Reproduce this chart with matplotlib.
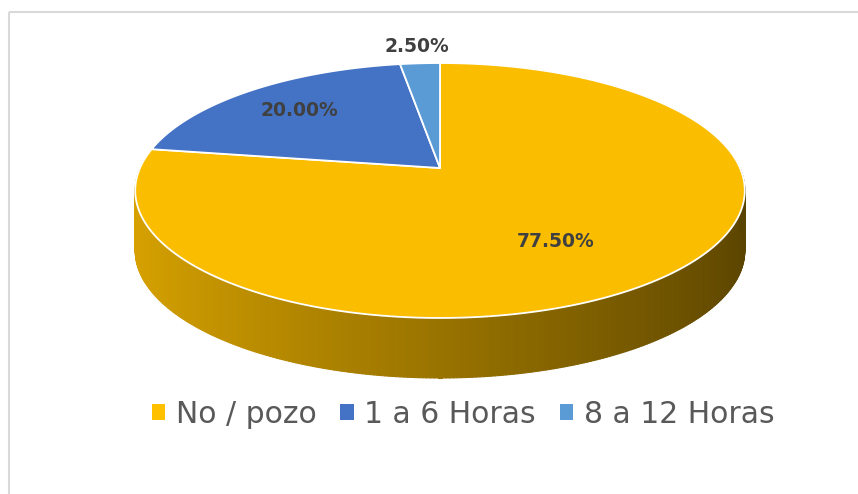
import numpy as np
import matplotlib.pyplot as plt
from matplotlib.patches import Polygon, Patch, Rectangle
from matplotlib.collections import PolyCollection

categorias = ["No / pozo", "1 a 6 Horas", "8 a 12 Horas"]
porcentajes = [77.5, 20.0, 2.5]
etiquetas = ["77.50%", "20.00%", "2.50%"]
colores = ["#FABD00", "#4472C4", "#5B9BD5"]

# geometría del pastel 3D (en píxeles de la figura)
CX, CY = 440, 168
SX, SY = 300, 123.5
K = 0.1765          # perspectiva
PROF = 60           # grosor del pastel
ANCHO, ALTO = 858, 494


def proyectar(t, r=1.0):
    u = r * np.cos(t)
    v = r * np.sin(t)
    d = 1 + K * v
    return CX + SX * u / d, CY - SY * v / d


fig = plt.figure(figsize=(ANCHO / 100, ALTO / 100), dpi=100)
ax = fig.add_axes([0, 0, 1, 1])
ax.set_xlim(0, ANCHO)
ax.set_ylim(ALTO, 0)
ax.axis('off')

# borde del gráfico
ax.add_patch(Rectangle((9, 12), ANCHO, ALTO, fill=False, edgecolor='#D9D9D9', lw=1.5))

# lado visible (frente) con degradado
base = np.array([255, 192, 0]) / 255
ts = np.linspace(np.pi, 2 * np.pi, 300)
quads, cols = [], []
for t0, t1 in zip(ts[:-1], ts[1:]):
    x0, y0 = proyectar(t0)
    x1, y1 = proyectar(t1)
    f = 0.60 - 0.25 * np.cos((t0 + t1) / 2)
    quads.append([(x0, y0), (x1, y1), (x1, y1 + PROF), (x0, y0 + PROF)])
    cols.append(np.clip(base * f, 0, 1))
ax.add_collection(PolyCollection(quads, facecolors=cols, edgecolors=cols,
                                 linewidths=0.8, zorder=1))

# caras superiores de cada porción (sentido horario desde las 12)
inicio = np.pi / 2
angulos = []
for p, col in zip(porcentajes, colores):
    fin = inicio - 2 * np.pi * p / 100
    arco = np.linspace(inicio, fin, 200)
    xs, ys = proyectar(arco)
    pts = [(CX, CY)] + list(zip(xs, ys))
    ax.add_patch(Polygon(pts, closed=True, facecolor=col, edgecolor='white',
                         lw=1.3, joinstyle='round', zorder=2))
    angulos.append((inicio + fin) / 2)
    inicio = fin

# etiquetas de datos
radios = [0.55, 0.72, 1.2]
desplaz = [18, 0, 0]
for ang, r, dy, txt in zip(angulos, radios, desplaz, etiquetas):
    x, y = proyectar(ang, r)
    ax.text(x, y + dy, txt, ha='center', va='center', fontsize=13.5,
            fontweight='bold', color='#404040', zorder=3)

# leyenda
handles = [Patch(facecolor=c, edgecolor='none') for c in ["#FFC000", "#4472C4", "#5B9BD5"]]
ax.legend(handles, categorias, loc='center', bbox_to_anchor=(463 / ANCHO, 1 - 414 / ALTO),
          ncol=3, frameon=False, fontsize=21.5, labelcolor='#595959',
          handlelength=0.45, handleheight=0.45, handletextpad=0.35, columnspacing=0.8)

fig.savefig("out.png", dpi=100)
plt.close(fig)
